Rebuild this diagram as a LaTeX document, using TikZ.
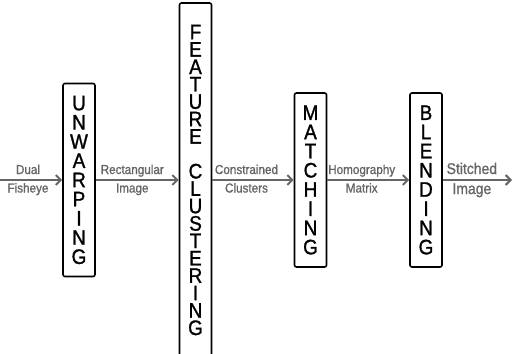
\documentclass[tikz,border=0pt]{standalone}
\usepackage{fontspec}
\setmainfont{Liberation Sans}[FakeStretch=0.9, FakeBold=1.2]
\usetikzlibrary{positioning, arrows.meta}

\begin{document}
\begin{tikzpicture}[x=1pt, y=-1pt,
    stage/.style={draw=black, line width=1.6pt, rounded corners=2pt, minimum width=32pt,
        inner sep=0pt, align=center, font=\fontsize{21}{19.2}\selectfont},
    flow/.style={draw=black!60, line width=2pt, -{Straight Barb[length=5pt, width=10pt]}},
    lbl/.style={text=black!60, font=\fontsize{13}{15}\selectfont, inner sep=2pt,
        text height=9.5pt, text depth=3pt},
    bigger/.style={font=\fontsize{15.5}{17}\selectfont, text height=11pt}]

    \useasboundingbox (0,0) rectangle (513,353);

    % processing stages
    \node[stage, minimum height=193pt] (unwarp) at (79,180) {U\\N\\W\\A\\R\\P\\I\\N\\G};
    \node[stage, minimum height=354pt, font=\fontsize{21}{17.4}\selectfont] (cluster) at (195.5,180)
        {F\\E\\A\\T\\U\\R\\E\\[17.4pt]C\\L\\U\\S\\T\\E\\R\\I\\N\\G};
    \node[stage, minimum height=174pt] (match) at (310.5,180) {M\\A\\T\\C\\H\\I\\N\\G};
    \node[stage, minimum height=174pt] (blend) at (426,180) {B\\L\\E\\N\\D\\I\\N\\G};

    \coordinate (input) at (0,180);
    \coordinate (output) at (512,180);

    % data passed between stages
    \draw[flow] (input) -- node[lbl, above, pos=0.45] (dual) {Dual}
        node[lbl, below, pos=0.45] (fisheye) {Fisheye} (unwarp);
    \draw[flow] (unwarp) -- node[lbl, above, pos=0.44] (rect) {Rectangular}
        node[lbl, below, pos=0.44] (rectimg) {Image} (cluster);
    \draw[flow] (cluster) -- node[lbl, above, pos=0.42] (constr) {Constrained}
        node[lbl, below, pos=0.42] (clust) {Clusters} (match);
    \draw[flow] (match) -- node[lbl, above, pos=0.42] (homog) {Homography}
        node[lbl, below, pos=0.42] (matrix) {Matrix} (blend);
    \draw[flow] (blend) -- node[lbl, bigger, above, pos=0.42] (stitch) {Stitched}
        node[lbl, bigger, below, pos=0.42] (stitchimg) {Image} (output);
\end{tikzpicture}
\end{document}
